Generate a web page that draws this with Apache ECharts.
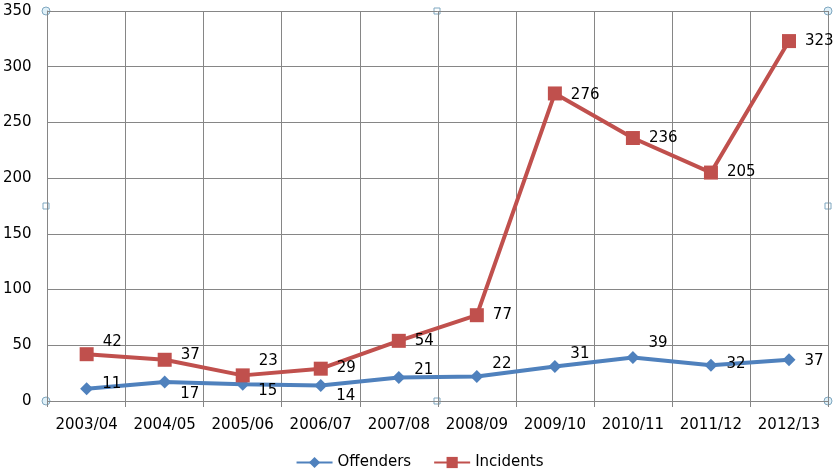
<!DOCTYPE html>
<html><head><meta charset="utf-8">
<script src="https://cdn.jsdelivr.net/npm/echarts@6/dist/echarts.min.js"></script>
<style>html,body{margin:0;padding:0;background:#fff}#c{width:839px;height:475px}</style>
</head><body><div id="c"></div>
<script>
const categories = ['2003/04','2004/05','2005/06','2006/07','2007/08','2008/09','2009/10','2010/11','2011/12','2012/13'];
const offenders = [11,17,15,14,21,22,31,39,32,37];
const incidents = [42,37,23,29,54,77,276,236,205,323];
const yTicks = [0,50,100,150,200,250,300,350];
// vertical label nudges (layout only)
const offenderLabelDy = [-5,12,7,11,-7,-12,-12,-14,-1,1];
const incidentLabelDy = [-12,-5,-14,-1,0,0,2,0,0,0];

const chart = echarts.init(document.getElementById('c'));
const font = 'DejaVu Sans, sans-serif';
const lbl = {show:true,position:'right',distance:9,fontFamily:font,fontSize:15,color:'#000'};
chart.setOption({
  animation:false,
  grid:{left:46,right:11,top:11,bottom:74},
  legend:{bottom:0,left:'center',itemWidth:36,itemHeight:14,itemGap:22,
    textStyle:{fontFamily:font,fontSize:15,color:'#000'},
    data:['Offenders','Incidents']},
  xAxis:{type:'category',data:categories,boundaryGap:true,
    axisLine:{lineStyle:{color:'#868686',width:1}},
    axisTick:{show:true,interval:0,length:6,lineStyle:{color:'#868686'}},
    splitLine:{show:true,interval:0,lineStyle:{color:'#868686',width:1}},
    axisLabel:{interval:0,fontFamily:font,fontSize:15,color:'#000',margin:17}},
  yAxis:{type:'value',min:yTicks[0],max:yTicks[yTicks.length-1],interval:50,
    axisLine:{show:true,lineStyle:{color:'#868686'}},
    axisTick:{show:false},
    splitLine:{lineStyle:{color:'#868686',width:1}},
    axisLabel:{fontFamily:font,fontSize:15,color:'#000',margin:16}},
  series:[
    {name:'Offenders',type:'line',
      data:offenders.map((v,i)=>({value:v,label:{offset:[0,offenderLabelDy[i]]}})),
      symbol:'diamond',symbolSize:13,
      lineStyle:{color:'#4F81BD',width:4},itemStyle:{color:'#4F81BD'},
      label:lbl},
    {name:'Incidents',type:'line',
      data:incidents.map((v,i)=>({value:v,label:{offset:[0,incidentLabelDy[i]]}})),
      symbol:'rect',symbolSize:14,
      lineStyle:{color:'#C0504D',width:4},itemStyle:{color:'#C0504D'},
      label:lbl}
  ],
  graphic:[
    {type:'circle',shape:{cx:46,cy:11,r:4},style:{fill:'#dff0f8',stroke:'#7fa7c0',lineWidth:1}},
    {type:'circle',shape:{cx:828,cy:11,r:4},style:{fill:'#dff0f8',stroke:'#7fa7c0',lineWidth:1}},
    {type:'circle',shape:{cx:46,cy:401,r:4},style:{fill:'#dff0f8',stroke:'#7fa7c0',lineWidth:1}},
    {type:'circle',shape:{cx:828,cy:401,r:4},style:{fill:'#dff0f8',stroke:'#7fa7c0',lineWidth:1}},
    {type:'rect',shape:{x:434,y:8,width:6,height:6},style:{fill:'#fff',stroke:'#7fa7c0',lineWidth:1}},
    {type:'rect',shape:{x:434,y:398,width:6,height:6},style:{fill:'#fff',stroke:'#7fa7c0',lineWidth:1}},
    {type:'rect',shape:{x:43,y:203,width:6,height:6},style:{fill:'#fff',stroke:'#7fa7c0',lineWidth:1}},
    {type:'rect',shape:{x:825,y:203,width:6,height:6},style:{fill:'#fff',stroke:'#7fa7c0',lineWidth:1}}
  ]
});
</script></body></html>
